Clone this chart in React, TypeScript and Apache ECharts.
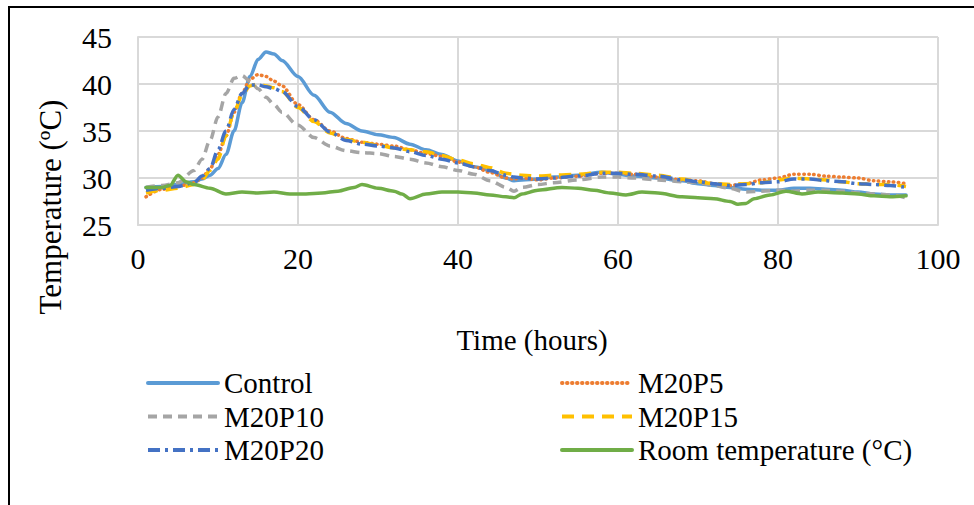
import React, { useEffect, useRef } from "react";
import * as echarts from "echarts";

const hours = [1,3,5,7,8,9,10,11,12,13,14,15,16,17,18,20,22,24,26,28,30,32,34,36,38,40,42,44,46,47,48,50,52,55,58,60,62,65,68,70,72,74,76,78,80,82,84,86,88,90,92,94,96];
const control = [29.0,29.1,29.3,29.6,29.9,30.3,31.0,32.5,35.0,38.0,40.8,42.6,43.4,43.2,42.5,40.8,38.8,37.0,35.8,35.0,34.6,34.3,33.6,33.0,32.5,31.8,31.2,30.8,30.0,29.7,29.8,29.9,30.1,30.3,30.6,30.4,30.2,30.0,29.7,29.4,29.2,29.0,28.8,28.7,28.7,28.9,28.9,28.8,28.7,28.5,28.3,28.2,28.2];
const m20p5 = [28.0,28.8,29.1,29.5,30.0,31.0,32.5,34.5,37.0,39.0,40.5,41.0,40.8,40.3,39.8,37.8,36.2,35.0,34.2,33.8,33.6,33.4,33.0,32.6,32.3,31.7,31.2,30.6,30.0,29.9,30.0,29.8,30.0,30.2,30.5,30.5,30.4,30.1,29.8,29.7,29.4,29.2,29.4,29.8,30.0,30.4,30.4,30.2,30.1,30.0,29.7,29.6,29.4];
const m20p10 = [29.0,29.2,29.5,30.8,32.0,34.0,36.5,39.0,40.6,40.9,40.3,39.5,38.6,37.8,37.0,35.6,34.3,33.4,32.9,32.7,32.6,32.3,32.0,31.6,31.2,30.8,30.4,29.7,29.0,28.6,29.0,29.3,29.5,29.8,30.1,30.1,30.0,29.8,29.6,29.5,29.2,28.9,28.5,28.6,28.7,28.6,28.7,28.7,28.6,28.4,28.3,28.2,27.9];
const m20p15 = [28.4,28.7,28.9,29.3,29.8,30.8,32.0,34.5,37.0,38.8,39.8,40.0,39.8,39.6,39.2,37.5,36.0,34.8,34.1,33.8,33.5,33.2,33.0,32.8,32.4,31.9,31.5,31.1,30.5,30.4,30.3,30.2,30.3,30.4,30.6,30.6,30.5,30.3,29.9,29.6,29.4,29.3,29.4,29.5,29.8,30.0,29.9,29.8,29.6,29.4,29.3,29.3,29.1];
const m20p20 = [28.7,28.9,29.1,29.5,30.2,31.0,33.0,35.0,37.3,39.0,39.9,39.9,39.7,39.5,39.2,37.6,36.2,34.9,34.0,33.6,33.4,33.2,32.8,32.4,32.0,31.6,31.2,30.8,30.3,30.1,30.0,29.9,30.0,30.2,30.5,30.5,30.4,30.2,29.8,29.6,29.4,29.2,29.3,29.5,29.6,29.9,29.9,29.7,29.6,29.4,29.3,29.2,29.0];
const roomHours = [1,3,4,5,6,7,9,11,13,15,17,19,21,23,25,27,28,30,32,33,34,36,38,40,42,44,46,47,48,50,53,55,57,59,61,63,65,68,70,72,74,75,76,77,79,81,83,85,88,90,92,94,96];
const roomTemp = [29.0,29.0,29.2,30.3,29.6,29.3,28.9,28.3,28.5,28.4,28.5,28.3,28.3,28.4,28.6,29.0,29.3,28.9,28.6,28.3,27.8,28.3,28.5,28.5,28.4,28.2,28.0,27.9,28.3,28.7,29.0,28.9,28.7,28.4,28.2,28.5,28.4,28.0,27.9,27.8,27.5,27.2,27.3,27.8,28.2,28.6,28.3,28.5,28.4,28.3,28.1,28.0,28.1];

const seriesNames = ["Control", "M20P5", "M20P10", "M20P15", "M20P20", "Room temperature (°C)"];
const xTicks = [0, 20, 40, 60, 80, 100];
const yTicks = [25, 30, 35, 40, 45];

const FONT = "'Liberation Serif', 'Times New Roman', serif";

function pairs(xs: number[], ys: number[]) {
  return xs.map((x, i) => [x, ys[i]]);
}

export default function App() {
  const ref = useRef<HTMLDivElement>(null);
  useEffect(() => {
    if (!ref.current) return;
    const chart = echarts.init(ref.current, undefined, { renderer: "svg" });
    const mk = (name: string, data: number[][], color: string, type: any, width: number, cap: any = "butt") => ({
      name,
      type: "line",
      data,
      showSymbol: false,
      symbol: "none",
      smooth: 0.3,
      smoothMonotone: "x",
      itemStyle: { color },
      lineStyle: { color, width, type, cap },
      z: 2,
    });
    const legendBase = {
      orient: "vertical",
      padding: 0,
      itemWidth: 70,
      itemHeight: 14,
      itemGap: 3.5,
      itemStyle: { opacity: 0 },
      lineStyle: { width: 4 },
      textStyle: { fontFamily: FONT, fontSize: 29, color: "#000", lineHeight: 30, padding: [0, 0, 0, 1] },
    };
    chart.setOption({
      animation: false,
      backgroundColor: "#fff",
      textStyle: { fontFamily: FONT },
      grid: { left: 138, top: 37, width: 800, height: 188, containLabel: false },
      xAxis: {
        type: "value",
        min: xTicks[0],
        max: xTicks[xTicks.length - 1],
        interval: 20,
        name: "Time (hours)",
        nameLocation: "middle",
        nameGap: 100,
        nameTextStyle: { fontFamily: FONT, fontSize: 29, color: "#000", padding: [0, 12, 0, 0] },
        axisLine: { show: true, lineStyle: { color: "#d9d9d9", width: 2 } },
        axisTick: { show: false },
        axisLabel: { fontFamily: FONT, fontSize: 30, color: "#000", margin: 18 },
        splitLine: { show: true, lineStyle: { color: "#d9d9d9", width: 2 } },
      },
      yAxis: {
        type: "value",
        min: yTicks[0],
        max: yTicks[yTicks.length - 1],
        interval: 5,
        axisLine: { show: true, lineStyle: { color: "#d9d9d9", width: 2 } },
        axisTick: { show: false },
        axisLabel: { fontFamily: FONT, fontSize: 30, color: "#000", margin: 26 },
        splitLine: { show: true, lineStyle: { color: "#d9d9d9", width: 2 } },
      },
      legend: [
        { ...legendBase, left: 146, top: 368, data: [seriesNames[0], seriesNames[2], seriesNames[4]] },
        { ...legendBase, left: 560, top: 368, data: [seriesNames[1], seriesNames[3], seriesNames[5]] },
      ],
      graphic: [
        {
          type: "rect",
          shape: { x: 9, y: 7, width: 1000, height: 600 },
          style: { fill: "none", stroke: "#000", lineWidth: 2 },
          silent: true,
        },
        {
          type: "text",
          x: 50,
          y: 207,
          rotation: Math.PI / 2,
          style: {
            text: "Temperature (ºC)",
            font: `31px ${FONT}`,
            fill: "#000",
            align: "center",
            verticalAlign: "middle",
          },
        },
      ],
      series: [
        mk(seriesNames[0], pairs(hours, control), "#5B9BD5", "solid", 3.5, "round"),
        mk(seriesNames[1], pairs(hours, m20p5), "#ED7D31", [0.5, 4.5], 3.5, "round"),
        mk(seriesNames[2], pairs(hours, m20p10), "#A5A5A5", [9, 6], 3.5),
        mk(seriesNames[3], pairs(hours, m20p15), "#FFC000", [12, 8], 3.5),
        mk(seriesNames[4], pairs(hours, m20p20), "#4472C4", [12, 5, 3, 5], 3.5),
        mk(seriesNames[5], pairs(roomHours, roomTemp), "#70AD47", "solid", 3.5, "round"),
      ],
    });
    return () => chart.dispose();
  }, []);
  return (
    <div
      ref={ref}
      style={{ position: "fixed", left: 0, top: 0, width: 974, height: 505, background: "#fff" }}
    />
  );
}
